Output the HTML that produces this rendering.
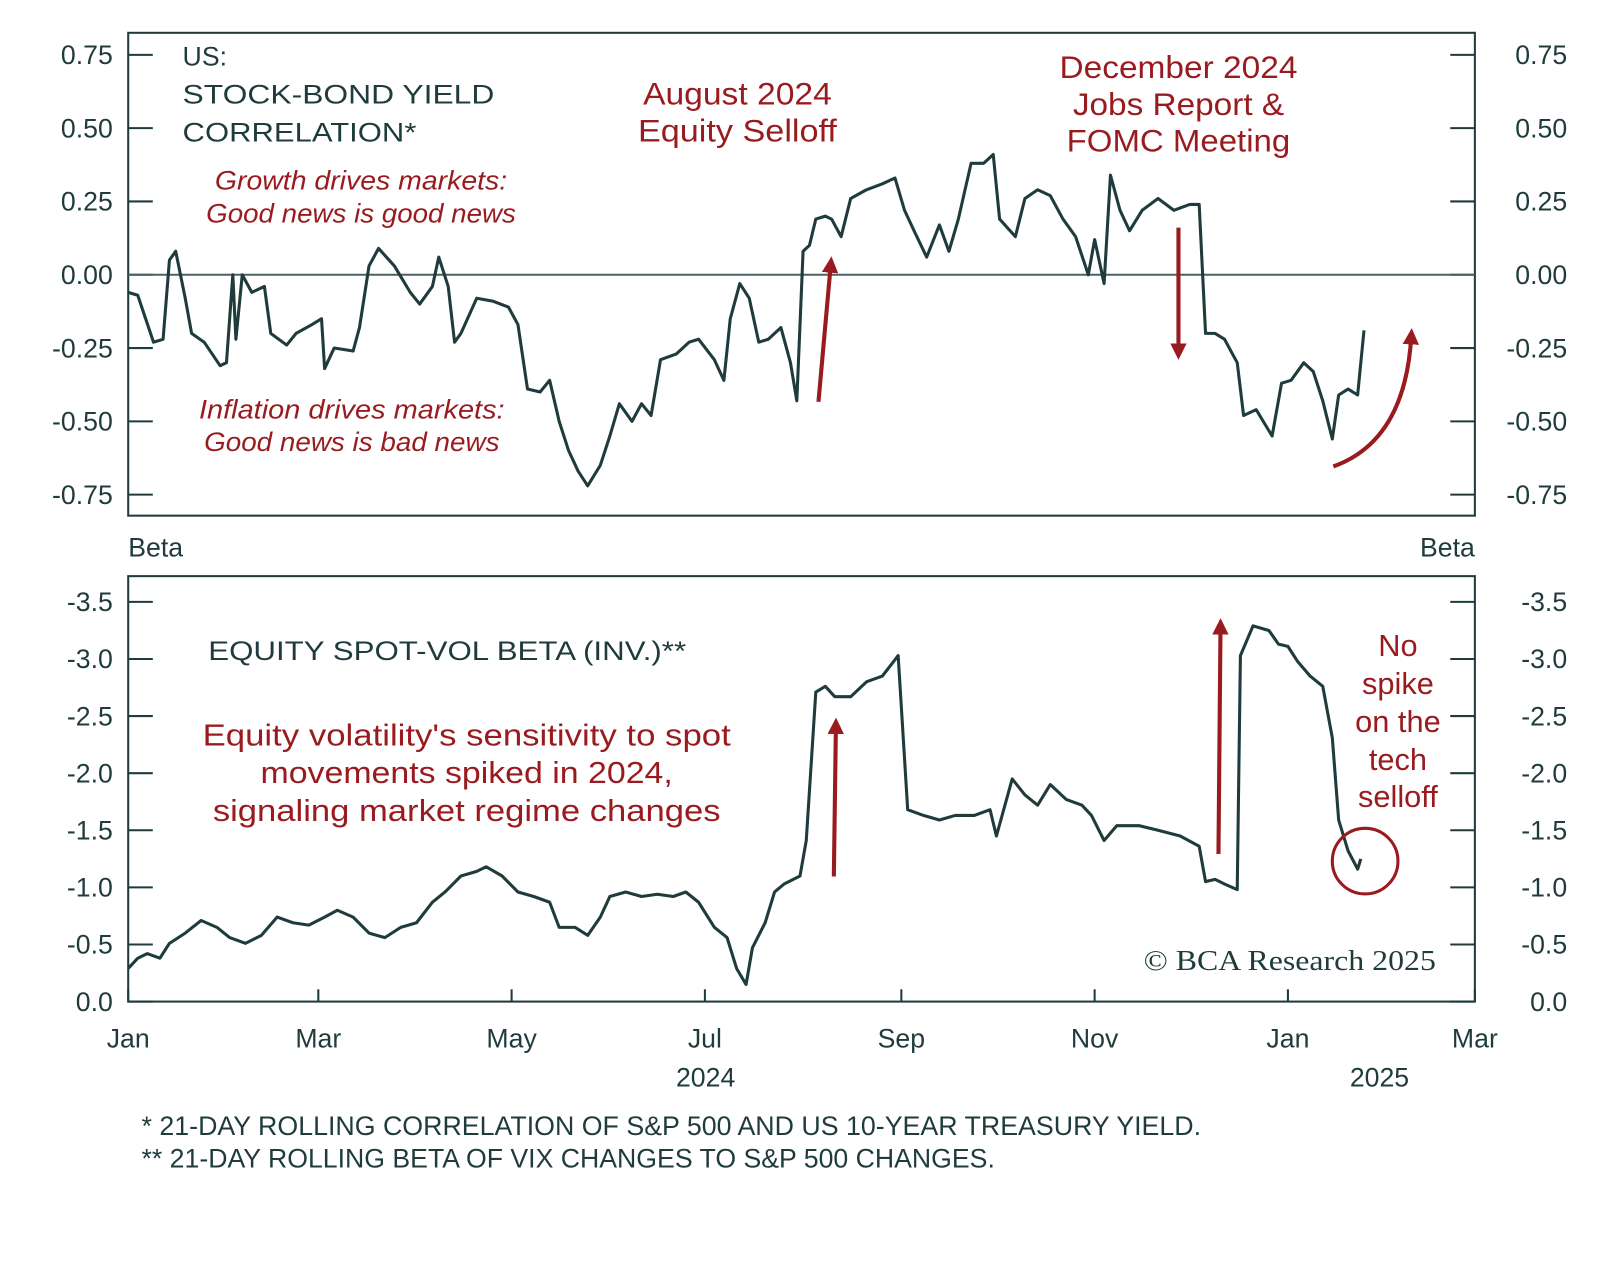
<!DOCTYPE html>
<html><head><meta charset="utf-8">
<style>
html,body{margin:0;padding:0;background:#fff;}
svg{display:block;font-family:"Liberation Sans",sans-serif;}
.t{fill:#1f3b3c;font-size:26px;}
.r{fill:#9a1b1f;}
</style></head>
<body>
<svg id="chart" width="1600" height="1263" viewBox="0 0 1560 1232" preserveAspectRatio="none" xmlns="http://www.w3.org/2000/svg">
<defs>
<marker id="ah" viewBox="0 0 10 10" refX="5" refY="5" markerWidth="4" markerHeight="4" orient="auto"><path d="M0,0 L10,5 L0,10 z" fill="#9a1b1f"/></marker>
</defs>
<g id="topPanel"></g>
<g id="botPanel"></g>
<g id="xaxis"></g>

<text class="t" x="178" y="64" font-size="29">US:</text>
<text class="t" x="178" y="101" font-size="29" textLength="304" lengthAdjust="spacingAndGlyphs">STOCK-BOND YIELD</text>
<text class="t" x="178" y="138" font-size="29" textLength="228" lengthAdjust="spacingAndGlyphs">CORRELATION*</text>
<text class="r" x="352" y="185" font-size="26" font-style="italic" text-anchor="middle" textLength="285" lengthAdjust="spacingAndGlyphs">Growth drives markets:</text>
<text class="r" x="352" y="217" font-size="26" font-style="italic" text-anchor="middle" textLength="302" lengthAdjust="spacingAndGlyphs">Good news is good news</text>
<text class="r" x="343" y="408" font-size="26" font-style="italic" text-anchor="middle" textLength="298" lengthAdjust="spacingAndGlyphs">Inflation drives markets:</text>
<text class="r" x="343" y="440" font-size="26" font-style="italic" text-anchor="middle" textLength="288" lengthAdjust="spacingAndGlyphs">Good news is bad news</text>
<text class="r" x="719" y="102" font-size="31" text-anchor="middle" textLength="184" lengthAdjust="spacingAndGlyphs">August 2024</text>
<text class="r" x="719" y="138" font-size="31" text-anchor="middle" textLength="194" lengthAdjust="spacingAndGlyphs">Equity Selloff</text>
<text class="r" x="1149" y="76" font-size="31" text-anchor="middle" textLength="232" lengthAdjust="spacingAndGlyphs">December 2024</text>
<text class="r" x="1149" y="112" font-size="31" text-anchor="middle" textLength="206" lengthAdjust="spacingAndGlyphs">Jobs Report &amp;</text>
<text class="r" x="1149" y="148" font-size="31" text-anchor="middle" textLength="218" lengthAdjust="spacingAndGlyphs">FOMC Meeting</text>

<text class="t" x="125" y="543" font-size="28">Beta</text>
<text class="t" x="1438" y="543" font-size="28" text-anchor="end">Beta</text>
<text class="t" x="203" y="644" font-size="28" textLength="466" lengthAdjust="spacingAndGlyphs">EQUITY SPOT-VOL BETA (INV.)**</text>
<text class="r" x="455" y="727" font-size="30" text-anchor="middle" textLength="515" lengthAdjust="spacingAndGlyphs">Equity volatility's sensitivity to spot</text>
<text class="r" x="455" y="764" font-size="30" text-anchor="middle" textLength="402" lengthAdjust="spacingAndGlyphs">movements spiked in 2024,</text>
<text class="r" x="455" y="801" font-size="30" text-anchor="middle" textLength="495" lengthAdjust="spacingAndGlyphs">signaling market regime changes</text>
<g font-size="30" text-anchor="middle">
<text class="r" x="1363" y="640">No</text><text class="r" x="1363" y="677">spike</text><text class="r" x="1363" y="714">on the</text><text class="r" x="1363" y="751">tech</text><text class="r" x="1363" y="787">selloff</text>
</g>
<text x="1400" y="946" font-family="Liberation Serif,serif" font-size="28" fill="#1f3b3c" text-anchor="end" textLength="285" lengthAdjust="spacingAndGlyphs">© BCA Research 2025</text>

<g stroke="#9a1b1f" stroke-width="4" fill="none">
<line x1="798" y1="392" x2="810" y2="258" marker-end="url(#ah)"/>
<line x1="1149" y1="222" x2="1149" y2="343" marker-end="url(#ah)"/>
<path d="M1300,455 Q1370,430 1376,328" marker-end="url(#ah)"/>
<line x1="813" y1="855" x2="815" y2="708" marker-end="url(#ah)"/>
<line x1="1188" y1="833" x2="1190" y2="611" marker-end="url(#ah)"/>
<circle cx="1331" cy="840" r="32" stroke-width="3"/>
</g>

<text class="t" x="138" y="1107" font-size="23" textLength="1033" lengthAdjust="spacingAndGlyphs">* 21-DAY ROLLING CORRELATION OF S&amp;P 500 AND US 10-YEAR TREASURY YIELD.</text>
<text class="t" x="138" y="1139" font-size="23" textLength="832" lengthAdjust="spacingAndGlyphs">** 21-DAY ROLLING BETA OF VIX CHANGES TO S&amp;P 500 CHANGES.</text>
</svg>
<script>
// Data (days since 2024-01-01)
const corrDays=[0,3,8,11,13,15,18,20,24,29,31,33,34,36,39,43,45,50,53,58,61,62,65,71,73,76,79,84,89,92,96,98,101,103,105,110,115,120,123,126,130,133,136,139,142,145,149,152,155,159,162,165,168,173,177,180,185,188,190,193,196,199,202,206,209,211,213,215,217,220,222,225,228,233,238,242,245,248,252,256,259,262,266,270,273,275,280,283,287,291,295,299,303,305,308,310,313,316,320,325,330,335,338,340,343,346,350,352,356,361,364,367,371,374,377,380,382,385,388,390];
const corrVals=[-0.06,-0.07,-0.23,-0.22,0.05,0.08,-0.08,-0.2,-0.23,-0.31,-0.3,0,-0.22,0,-0.06,-0.04,-0.2,-0.24,-0.2,-0.17,-0.15,-0.32,-0.25,-0.26,-0.18,0.03,0.09,0.03,-0.06,-0.1,-0.04,0.06,-0.04,-0.23,-0.2,-0.08,-0.09,-0.11,-0.17,-0.39,-0.4,-0.36,-0.5,-0.6,-0.67,-0.72,-0.65,-0.55,-0.44,-0.5,-0.44,-0.48,-0.29,-0.27,-0.23,-0.22,-0.29,-0.36,-0.15,-0.03,-0.08,-0.23,-0.22,-0.18,-0.3,-0.43,0.08,0.1,0.19,0.2,0.19,0.13,0.26,0.29,0.31,0.33,0.22,0.15,0.06,0.17,0.08,0.19,0.38,0.38,0.41,0.19,0.13,0.26,0.29,0.27,0.19,0.13,0,0.12,-0.03,0.34,0.22,0.15,0.22,0.26,0.22,0.24,0.24,-0.2,-0.2,-0.22,-0.3,-0.48,-0.46,-0.55,-0.37,-0.36,-0.3,-0.33,-0.43,-0.56,-0.41,-0.39,-0.41,-0.19];
const betaDays=[0,3,6,10,13,18,23,28,32,37,42,47,52,57,62,66,71,76,81,86,91,96,100,105,110,113,118,123,128,133,136,141,145,149,152,157,162,167,172,176,180,185,189,192,195,197,201,204,207,212,214,217,220,223,228,233,238,243,246,251,256,261,267,272,274,279,283,287,291,296,301,304,308,312,319,325,332,338,340,343,346,350,351,355,360,363,366,369,373,377,380,382,385,388,389];
const betaInv=[0.29,0.38,0.42,0.38,0.51,0.6,0.71,0.65,0.56,0.51,0.58,0.74,0.69,0.67,0.74,0.8,0.74,0.6,0.56,0.65,0.69,0.87,0.96,1.1,1.14,1.18,1.1,0.96,0.92,0.87,0.65,0.65,0.58,0.74,0.92,0.96,0.92,0.94,0.92,0.96,0.87,0.65,0.56,0.29,0.15,0.47,0.69,0.96,1.03,1.1,1.41,2.71,2.76,2.67,2.67,2.8,2.85,3.03,1.68,1.63,1.59,1.63,1.63,1.68,1.45,1.95,1.81,1.72,1.9,1.77,1.72,1.63,1.41,1.54,1.54,1.5,1.45,1.36,1.05,1.07,1.03,0.98,3.03,3.29,3.25,3.13,3.11,2.98,2.85,2.76,2.31,1.59,1.32,1.16,1.25];
const corrTicks=[0.75,0.5,0.25,0,-0.25,-0.5,-0.75];
const corrTickLabels=["0.75","0.50","0.25","0.00","-0.25","-0.50","-0.75"];
const betaTicks=[3.5,3,2.5,2,1.5,1,0.5,0];
const betaTickLabels=["-3.5","-3.0","-2.5","-2.0","-1.5","-1.0","-0.5","0.0"];
const monthDays=[0,60,121,182,244,305,366,425];
const monthLabels=["Jan","Mar","May","Jul","Sep","Nov","Jan","Mar"];

const NS="http://www.w3.org/2000/svg";
const L=125,R=1438;
const xS=d=>L+d*(R-L)/425;
const yTop=v=>268-v*286;
const yBot=v=>977-v*111.4;
function mk(tag,attrs,parent){const e=document.createElementNS(NS,tag);for(const k in attrs)e.setAttribute(k,attrs[k]);parent.appendChild(e);return e;}
const C="#1f3b3c";

function panel(g,y0,y1,ticks,labels,yf,name){
  const box=mk('rect',{x:L,y:y0,width:R-L,height:y1-y0,fill:'none',stroke:C,'stroke-width':2},g);
  
  
  ticks.forEach((t,i)=>{
    const yy=yf(t);
    const a=mk('line',{x1:L,x2:L+24,y1:yy,y2:yy,stroke:C,'stroke-width':2},g);
    
    
    const b=mk('line',{x1:R-24,x2:R,y1:yy,y2:yy,stroke:C,'stroke-width':2},g);
    
    
    const tl=mk('text',{x:110,y:yy+9,'text-anchor':'end',class:'t','font-size':27},g);tl.textContent=labels[i];
    
    
    const tr=mk('text',{x:1528,y:yy+9,'text-anchor':'end',class:'t','font-size':27},g);tr.textContent=labels[i];
    
    
  });
}
const gTop=document.getElementById('topPanel'),gBot=document.getElementById('botPanel'),xa=document.getElementById('xaxis');
panel(gTop,32,503,corrTicks,corrTickLabels,yTop,'corr');
panel(gBot,562,977,betaTicks,betaTickLabels,yBot,'beta');
const zl=mk('line',{x1:L,x2:R,y1:yTop(0),y2:yTop(0),stroke:'#4a6262','stroke-width':2},gTop);


const p1=mk('path',{d:corrDays.map((d,i)=>(i?'L':'M')+xS(d).toFixed(1)+','+yTop(corrVals[i]).toFixed(1)).join(''),fill:'none',stroke:C,'stroke-width':3,'stroke-linejoin':'round'},gTop);


const p2=mk('path',{d:betaDays.map((d,i)=>(i?'L':'M')+xS(d).toFixed(1)+','+yBot(betaInv[i]).toFixed(1)).join(''),fill:'none',stroke:C,'stroke-width':3,'stroke-linejoin':'round'},gBot);


monthDays.forEach((d,i)=>{
  const t=mk('line',{x1:xS(d),x2:xS(d),y1:965,y2:977,stroke:C,'stroke-width':2},xa);
  
  
  const tx=mk('text',{x:xS(d),y:1022,'text-anchor':'middle',class:'t','font-size':29},xa);tx.textContent=monthLabels[i];
  
  
});
const yr1=mk('text',{x:688,y:1060,'text-anchor':'middle',class:'t','font-size':28},xa);yr1.textContent='2024';


const yr2=mk('text',{x:1345,y:1060,'text-anchor':'middle',class:'t','font-size':28},xa);yr2.textContent='2025';


</script>
</body></html>
